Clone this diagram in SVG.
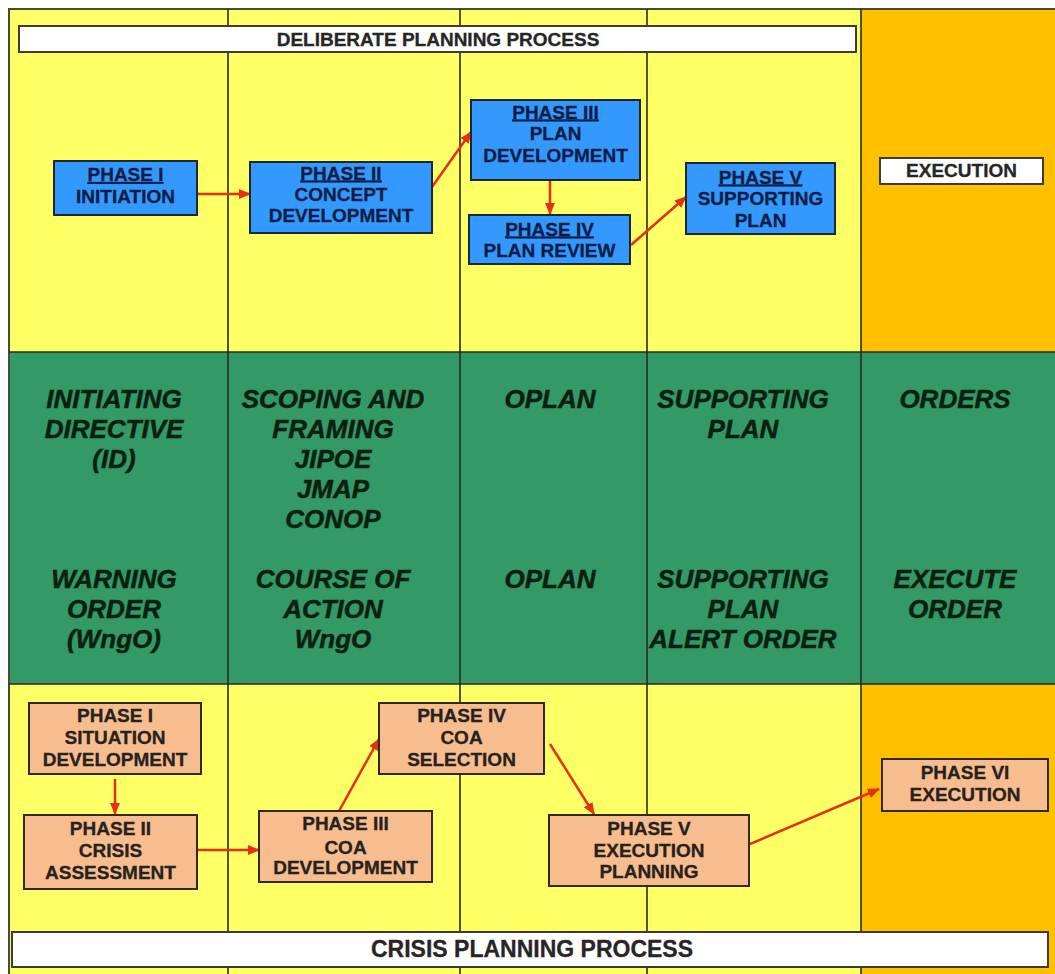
<svg xmlns="http://www.w3.org/2000/svg" width="1055" height="974" viewBox="0 0 1055 974">
  <defs>
    <marker id="arrowhead" viewBox="0 0 12 10" refX="11" refY="5" markerWidth="12" markerHeight="10" markerUnits="userSpaceOnUse" orient="auto">
      <path d="M0,0 L12,5 L0,10 z" fill="#E4300F"/>
    </marker>
    <style>
      .lane-line { stroke: #2a2a22; stroke-width: 1.6; fill: none; }
      .banner { fill: #ffffff; stroke: #3c3c30; stroke-width: 2; }
      .banner-text { font-family: "Liberation Sans", Arial, sans-serif; font-weight: bold; fill: #262626; text-anchor: middle; stroke: #262626; stroke-width: 0.3; }
      .blue-box { fill: #3399FF; stroke: #1c2636; stroke-width: 2; }
      .blue-text { font-family: "Liberation Sans", Arial, sans-serif; font-weight: bold; font-size: 19px; fill: #0d1d45; stroke: #0d1d45; stroke-width: 0.3; text-anchor: middle; }
      .tan-box { fill: #F8BD8E; stroke: #33281e; stroke-width: 2; }
      .tan-text { font-family: "Liberation Sans", Arial, sans-serif; font-weight: bold; font-size: 19px; fill: #262220; stroke: #262220; stroke-width: 0.3; text-anchor: middle; }
      .product { font-family: "Liberation Sans", Arial, sans-serif; font-weight: bold; font-style: italic; font-size: 26px; fill: #0a1f10; stroke: #0a1f10; stroke-width: 0.5; text-anchor: middle; }
      .flow { stroke: #E4300F; stroke-width: 2.5; fill: none; marker-end: url(#arrowhead); }
      .ul { text-decoration: underline; }
    </style>
  </defs>

  <!-- page -->
  <rect x="0" y="0" width="1055" height="974" fill="#ffffff"/>

  <!-- swimlane backgrounds -->
  <g id="lanes">
    <rect x="9" y="9" width="852" height="965" fill="#FFFF66"/>
    <rect x="861" y="9" width="194" height="965" fill="#FFC000"/>
    <rect x="9" y="352" width="1046" height="332" fill="#339966"/>
    <rect x="9" y="9" width="1056" height="975" fill="none" stroke="#4a4a38" stroke-width="2"/>
    <line class="lane-line" x1="9" y1="352" x2="1055" y2="352"/>
    <line class="lane-line" x1="9" y1="684" x2="1055" y2="684"/>
    <line class="lane-line" x1="228" y1="9" x2="228" y2="974"/>
    <line class="lane-line" x1="460" y1="9" x2="460" y2="974"/>
    <line class="lane-line" x1="647" y1="9" x2="647" y2="974"/>
    <line class="lane-line" x1="861" y1="9" x2="861" y2="974"/>
  </g>

  <!-- process banners -->
  <g id="deliberate-banner">
    <rect class="banner" x="19" y="26" width="837" height="26"/>
    <text class="banner-text" x="438" y="46" font-size="19">DELIBERATE PLANNING PROCESS</text>
  </g>
  <g id="crisis-banner">
    <rect class="banner" x="12" y="932" width="1036" height="35"/>
    <text class="banner-text" x="532" y="957" font-size="23">CRISIS PLANNING PROCESS</text>
  </g>

  <!-- products of each phase -->
  <g id="products">
    <text class="product" x="114"><tspan x="114" y="407.5">INITIATING</tspan><tspan x="114" y="437.5">DIRECTIVE</tspan><tspan x="114" y="467.5">(ID)</tspan></text>
    <text class="product" x="333"><tspan x="333" y="407.5">SCOPING AND</tspan><tspan x="333" y="437.5">FRAMING</tspan><tspan x="333" y="467.5">JIPOE</tspan><tspan x="333" y="497.5">JMAP</tspan><tspan x="333" y="527.5">CONOP</tspan></text>
    <text class="product" x="550" y="407.5">OPLAN</text>
    <text class="product" x="743"><tspan x="743" y="407.5">SUPPORTING</tspan><tspan x="743" y="437.5">PLAN</tspan></text>
    <text class="product" x="955" y="407.5">ORDERS</text>

    <text class="product" x="114"><tspan x="114" y="587.5">WARNING</tspan><tspan x="114" y="617.5">ORDER</tspan><tspan x="114" y="647.5">(WngO)</tspan></text>
    <text class="product" x="333"><tspan x="333" y="587.5">COURSE OF</tspan><tspan x="333" y="617.5">ACTION</tspan><tspan x="333" y="647.5">WngO</tspan></text>
    <text class="product" x="550" y="587.5">OPLAN</text>
    <text class="product" x="743"><tspan x="743" y="587.5">SUPPORTING</tspan><tspan x="743" y="617.5">PLAN</tspan><tspan x="743" y="647.5">ALERT ORDER</tspan></text>
    <text class="product" x="955"><tspan x="955" y="587.5">EXECUTE</tspan><tspan x="955" y="617.5">ORDER</tspan></text>
  </g>

  <!-- connectors -->
  <g id="connectors">
    <line class="flow" x1="197" y1="194" x2="250" y2="194"/>
    <line class="flow" x1="432" y1="187" x2="471" y2="132"/>
    <line class="flow" x1="550" y1="180" x2="550" y2="214"/>
    <line class="flow" x1="631" y1="245" x2="686" y2="197"/>

    <line class="flow" x1="115" y1="779" x2="115" y2="814"/>
    <line class="flow" x1="197" y1="850" x2="259" y2="850"/>
    <line class="flow" x1="339" y1="811" x2="379" y2="739"/>
    <line class="flow" x1="550" y1="744" x2="594" y2="814"/>
    <line class="flow" x1="750" y1="844" x2="879" y2="789"/>
  </g>

  <!-- deliberate planning phases -->
  <g id="dp-phase-1">
    <rect class="blue-box" x="54" y="161" width="143" height="54"/>
    <text class="blue-text"><tspan class="ul" x="125.5" y="181">PHASE I</tspan><tspan x="125.5" y="203">INITIATION</tspan></text>
  </g>
  <g id="dp-phase-2">
    <rect class="blue-box" x="250" y="162" width="182" height="71"/>
    <text class="blue-text"><tspan class="ul" x="341" y="179.5">PHASE II</tspan><tspan x="341" y="200.5">CONCEPT</tspan><tspan x="341" y="221.5">DEVELOPMENT</tspan></text>
  </g>
  <g id="dp-phase-3">
    <rect class="blue-box" x="471" y="100" width="169" height="80"/>
    <text class="blue-text"><tspan class="ul" x="555.5" y="118.5">PHASE III</tspan><tspan x="555.5" y="140">PLAN</tspan><tspan x="555.5" y="161.5">DEVELOPMENT</tspan></text>
  </g>
  <g id="dp-phase-4">
    <rect class="blue-box" x="469" y="215" width="161" height="49"/>
    <text class="blue-text"><tspan class="ul" x="549.5" y="235.5">PHASE IV</tspan><tspan x="549.5" y="256.5">PLAN REVIEW</tspan></text>
  </g>
  <g id="dp-phase-5">
    <rect class="blue-box" x="686" y="163" width="149" height="71"/>
    <text class="blue-text"><tspan class="ul" x="760.5" y="183.5">PHASE V</tspan><tspan x="760.5" y="205">SUPPORTING</tspan><tspan x="760.5" y="226.5">PLAN</tspan></text>
  </g>
  <g id="dp-execution">
    <rect class="banner" x="880" y="158" width="163" height="26"/>
    <text class="banner-text" x="961.5" y="177" font-size="19">EXECUTION</text>
  </g>

  <!-- crisis planning phases -->
  <g id="cp-phase-1">
    <rect class="tan-box" x="29" y="703" width="172" height="71"/>
    <text class="tan-text"><tspan x="115" y="721.5">PHASE I</tspan><tspan x="115" y="743.5">SITUATION</tspan><tspan x="115" y="765.5">DEVELOPMENT</tspan></text>
  </g>
  <g id="cp-phase-2">
    <rect class="tan-box" x="24" y="815" width="173" height="74"/>
    <text class="tan-text"><tspan x="110.5" y="834.5">PHASE II</tspan><tspan x="110.5" y="856.5">CRISIS</tspan><tspan x="110.5" y="878.5">ASSESSMENT</tspan></text>
  </g>
  <g id="cp-phase-3">
    <rect class="tan-box" x="259" y="811" width="173" height="71"/>
    <text class="tan-text"><tspan x="345.5" y="829.5">PHASE III</tspan><tspan x="345.5" y="853.5">COA</tspan><tspan x="345.5" y="873.5">DEVELOPMENT</tspan></text>
  </g>
  <g id="cp-phase-4">
    <rect class="tan-box" x="379" y="703" width="165" height="71"/>
    <text class="tan-text"><tspan x="461.5" y="721.5">PHASE IV</tspan><tspan x="461.5" y="743.5">COA</tspan><tspan x="461.5" y="765.5">SELECTION</tspan></text>
  </g>
  <g id="cp-phase-5">
    <rect class="tan-box" x="549" y="815" width="200" height="71"/>
    <text class="tan-text"><tspan x="649" y="834.5">PHASE V</tspan><tspan x="649" y="856.5">EXECUTION</tspan><tspan x="649" y="877.5">PLANNING</tspan></text>
  </g>
  <g id="cp-phase-6">
    <rect class="tan-box" x="882" y="759" width="166" height="52"/>
    <text class="tan-text"><tspan x="965" y="778.5">PHASE VI</tspan><tspan x="965" y="800.5">EXECUTION</tspan></text>
  </g>
</svg>
